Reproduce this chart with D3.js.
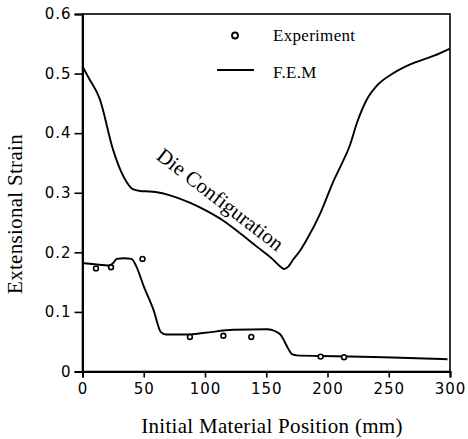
<!DOCTYPE html>
<html><head><meta charset="utf-8">
<script src="https://cdn.jsdelivr.net/npm/d3@7/dist/d3.min.js"></script>
<style>html,body{margin:0;padding:0;background:#fff;}svg{display:block;}</style>
</head><body>
<svg id="c" width="468" height="439"></svg>
<script>
// Data
const xTicks = [0, 50, 100, 150, 200, 250, 300];
const yTicks = [0, 0.1, 0.2, 0.3, 0.4, 0.5, 0.6];
const dieX = [0,5,14,25,31,36,41,47,55,63,74,88,101,115,128.6,142,156,161,164.5,168,172,178,183,194,205,212,218,224,232,240,254,267,287,300];
const dieY = [0.512,0.493,0.458,0.372,0.338,0.318,0.306,0.303,0.302,0.300,0.294,0.283,0.270,0.253,0.232,0.210,0.187,0.177,0.172,0.176,0.188,0.204,0.221,0.265,0.320,0.350,0.378,0.417,0.456,0.479,0.501,0.515,0.530,0.542];
const femX = [0,10,22,25,28,34,40,44,50,58,64,68,85,100,123,151,157,162,165,168,171,175,194,246,298];
const femY = [0.182,0.180,0.178,0.182,0.189,0.190,0.189,0.176,0.143,0.103,0.066,0.062,0.062,0.065,0.070,0.071,0.068,0.061,0.050,0.038,0.029,0.027,0.026,0.024,0.0205];
const expX = [11,23.3,49,87.7,115,137.8,194.4,213.5];
const expY = [0.173,0.175,0.189,0.058,0.060,0.058,0.025,0.024];

const svg = d3.select('#c');
const L = 82.5, R = 450, T = 14, B = 371.5;
const x = d3.scaleLinear().domain([0,300]).range([L,R]);
const y = d3.scaleLinear().domain([0,0.6]).range([B,T]);

const tickFont = 'DejaVu Sans, sans-serif';
const serif = 'Liberation Serif, Times New Roman, serif';

// Frame
svg.append('rect').attr('x',L).attr('y',T).attr('width',R-L).attr('height',B-T)
  .attr('fill','none').attr('stroke','#000').attr('stroke-width',1.6);

// Axes
const xa = svg.append('g').attr('transform',`translate(0,${B})`)
  .call(d3.axisBottom(x).tickValues(xTicks).tickSize(6).tickPadding(6).tickFormat(d3.format('d')));
const ya = svg.append('g').attr('transform',`translate(${L},0)`)
  .call(d3.axisLeft(y).tickValues(yTicks).tickSize(8).tickPadding(3).tickFormat(d => d===0 ? '0' : d3.format('.1f')(d)));
[xa, ya].forEach(g => {
  g.select('.domain').attr('stroke','#000').attr('stroke-width',2);
  g.selectAll('.tick line').attr('stroke','#000').attr('stroke-width',1.6);
  g.selectAll('.tick text').attr('fill','#000').style('font-family',tickFont)
    .style('font-size','15px').style('letter-spacing','1px');
});

// Lines
const line = d3.line().x(d => x(d[0])).y(d => y(d[1])).curve(d3.curveMonotoneX);
svg.append('path').datum(dieX.map((v,i)=>[v,dieY[i]])).attr('d',line)
  .attr('fill','none').attr('stroke','#000').attr('stroke-width',1.9);
svg.append('path').datum(femX.map((v,i)=>[v,femY[i]])).attr('d',line)
  .attr('fill','none').attr('stroke','#000').attr('stroke-width',1.9);

// Experiment markers
svg.selectAll('circle.exp').data(expX.map((v,i)=>[v,expY[i]])).enter().append('circle')
  .attr('class','exp').attr('cx',d=>x(d[0])).attr('cy',d=>y(d[1])).attr('r',2.4)
  .attr('fill','#fff').attr('stroke','#000').attr('stroke-width',1.6);

// Legend
svg.append('circle').attr('cx',235).attr('cy',35.5).attr('r',3).attr('fill','#fff')
  .attr('stroke','#000').attr('stroke-width',1.8);
svg.append('text').attr('x',273).attr('y',40.5).text('Experiment')
  .style('font-family',serif).style('font-size','17px').style('letter-spacing','0.3px');
svg.append('line').attr('x1',217).attr('x2',254).attr('y1',70).attr('y2',70)
  .attr('stroke','#000').attr('stroke-width',1.8);
svg.append('text').attr('x',273).attr('y',77.5).text('F.E.M')
  .style('font-family',serif).style('font-size','17px').style('letter-spacing','0.3px');

// Annotation
svg.append('text').attr('transform','translate(216,205) rotate(37.6)')
  .attr('text-anchor','middle').text('Die Configuration')
  .style('font-family',serif).style('font-size','21px');

// Axis titles
svg.append('text').attr('x',272).attr('y',433).attr('text-anchor','middle')
  .text('Initial Material Position (mm)')
  .style('font-family',serif).style('font-size','21px').style('letter-spacing','0.3px');
svg.append('text').attr('transform','translate(22,214) rotate(-90)').attr('text-anchor','middle')
  .text('Extensional Strain')
  .style('font-family',serif).style('font-size','21px').style('letter-spacing','0.3px');
</script>
</body></html>
